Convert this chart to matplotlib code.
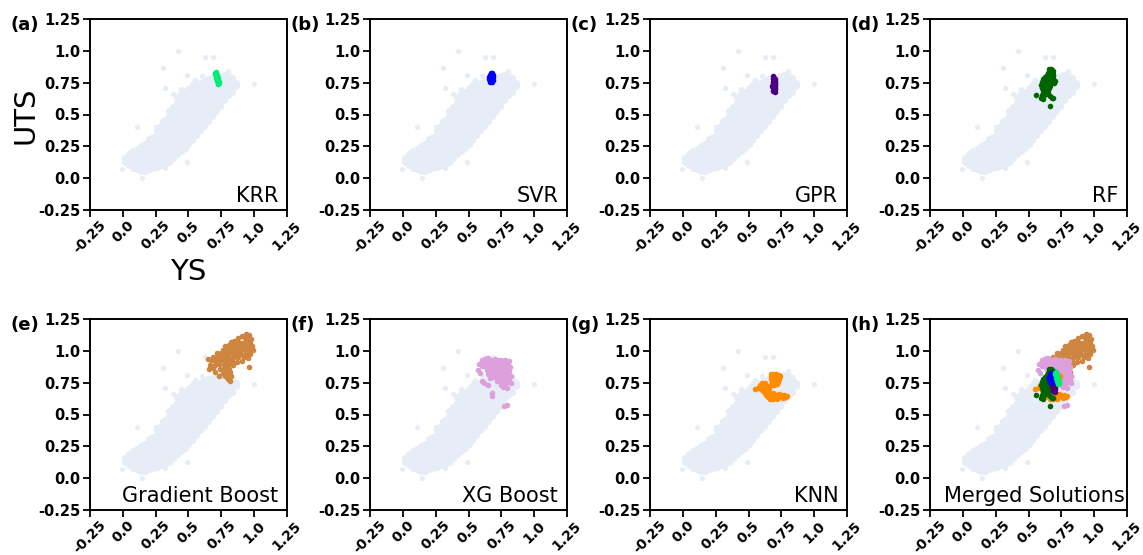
import matplotlib
matplotlib.use('Agg')
from matplotlib import pyplot as plt
import numpy as np

# YS / UTS ticks shared by every panel
ticks = [-0.25, 0.0, 0.25, 0.5, 0.75, 1.0, 1.25]
tick_labels = ['-0.25', '0.0', '0.25', '0.5', '0.75', '1.0', '1.25']

# grey background dataset, read column by column (x, list of y values)
cloud_x = [0.02, 0.05, 0.08, 0.11, 0.14, 0.17, 0.20, 0.23, 0.26, 0.29, 0.32, 0.35, 0.38, 0.41, 0.44,
           0.47, 0.50, 0.53, 0.56, 0.59, 0.62, 0.65, 0.68, 0.71, 0.74, 0.77, 0.80, 0.83, 0.86]
cloud_y = [
    [0.13, 0.16],
    [0.10, 0.13, 0.16, 0.19],
    [0.08, 0.11, 0.14, 0.17, 0.21],
    [0.07, 0.10, 0.13, 0.16, 0.19, 0.23],
    [0.06, 0.09, 0.12, 0.15, 0.18, 0.21, 0.25],
    [0.06, 0.09, 0.13, 0.16, 0.19, 0.23, 0.27],
    [0.07, 0.10, 0.13, 0.17, 0.20, 0.24, 0.27, 0.31],
    [0.08, 0.11, 0.14, 0.18, 0.21, 0.25, 0.28, 0.32],
    [0.09, 0.12, 0.16, 0.19, 0.23, 0.26, 0.30, 0.34, 0.38],
    [0.10, 0.14, 0.17, 0.21, 0.24, 0.28, 0.32, 0.36, 0.41],
    [0.11, 0.15, 0.19, 0.23, 0.27, 0.31, 0.35, 0.39, 0.43, 0.46],
    [0.13, 0.17, 0.21, 0.25, 0.29, 0.33, 0.37, 0.41, 0.45, 0.49, 0.53],
    [0.16, 0.20, 0.24, 0.28, 0.32, 0.36, 0.40, 0.44, 0.48, 0.52, 0.56],
    [0.19, 0.23, 0.27, 0.31, 0.35, 0.39, 0.43, 0.47, 0.51, 0.55, 0.59, 0.64],
    [0.21, 0.25, 0.29, 0.33, 0.37, 0.41, 0.45, 0.49, 0.53, 0.57, 0.61, 0.66],
    [0.24, 0.28, 0.32, 0.36, 0.40, 0.44, 0.48, 0.52, 0.56, 0.60, 0.64, 0.68],
    [0.27, 0.31, 0.35, 0.39, 0.43, 0.47, 0.51, 0.55, 0.59, 0.63, 0.67, 0.70],
    [0.30, 0.34, 0.38, 0.42, 0.46, 0.50, 0.54, 0.58, 0.62, 0.66, 0.69, 0.72],
    [0.34, 0.38, 0.42, 0.46, 0.50, 0.54, 0.58, 0.62, 0.66, 0.70, 0.73],
    [0.38, 0.42, 0.46, 0.50, 0.54, 0.58, 0.62, 0.66, 0.70, 0.73, 0.75],
    [0.41, 0.45, 0.49, 0.53, 0.57, 0.61, 0.65, 0.69, 0.73, 0.76],
    [0.45, 0.49, 0.53, 0.57, 0.61, 0.65, 0.69, 0.73, 0.76, 0.78],
    [0.49, 0.53, 0.57, 0.61, 0.65, 0.69, 0.73, 0.76, 0.79],
    [0.53, 0.57, 0.61, 0.65, 0.69, 0.73, 0.76, 0.79],
    [0.57, 0.61, 0.65, 0.69, 0.73, 0.77, 0.80],
    [0.61, 0.65, 0.69, 0.73, 0.77, 0.81],
    [0.65, 0.69, 0.73, 0.77, 0.81],
    [0.68, 0.72, 0.76, 0.79],
    [0.72, 0.75],
]
outliers = [(0.42, 1.00), (0.626, 0.954), (0.69, 0.954), (0.304, 0.867), (0.32, 0.705), (0.106, 0.40),
            (0.486, 0.81), (0.537, 0.745), (0.38, 0.66), (-0.004, 0.07), (0.144, 0.003), (0.32, 0.082),
            (0.486, 0.13), (1.0, 0.74), (0.87, 0.73), (0.55, 0.77), (0.44, 0.70), (0.30, 0.45),
            (0.25, 0.40), (0.60, 0.80), (0.80, 0.84)]

# predicted optimum solutions of each model (YS, UTS)
krr = [(0.700, 0.825), (0.712, 0.830), (0.705, 0.815), (0.715, 0.812), (0.708, 0.800), (0.718, 0.798),
       (0.712, 0.786), (0.722, 0.784), (0.715, 0.772), (0.726, 0.770), (0.720, 0.760), (0.730, 0.758),
       (0.724, 0.750), (0.734, 0.748), (0.728, 0.742), (0.706, 0.808), (0.720, 0.792), (0.716, 0.778),
       (0.725, 0.764)]
svr = [(0.660, 0.810), (0.672, 0.815), (0.684, 0.810), (0.656, 0.795), (0.668, 0.798), (0.680, 0.796),
       (0.690, 0.792), (0.658, 0.780), (0.670, 0.782), (0.682, 0.780), (0.662, 0.768), (0.675, 0.766),
       (0.686, 0.770), (0.668, 0.823), (0.678, 0.824), (0.664, 0.757), (0.678, 0.758)]
gpr = [(0.690, 0.800), (0.695, 0.790), (0.688, 0.780), (0.698, 0.775), (0.692, 0.765), (0.700, 0.760),
       (0.688, 0.752), (0.698, 0.745), (0.705, 0.748), (0.685, 0.738), (0.695, 0.732), (0.705, 0.735),
       (0.682, 0.722), (0.692, 0.718), (0.702, 0.720), (0.688, 0.705), (0.698, 0.702), (0.694, 0.690),
       (0.704, 0.710), (0.690, 0.682), (0.700, 0.676)]
rf = [(0.655, 0.855), (0.668, 0.860), (0.680, 0.852), (0.662, 0.840), (0.675, 0.838), (0.688, 0.842),
      (0.650, 0.825), (0.665, 0.822), (0.678, 0.826), (0.690, 0.818), (0.640, 0.808), (0.655, 0.805),
      (0.670, 0.808), (0.685, 0.800), (0.628, 0.792), (0.645, 0.790), (0.660, 0.788), (0.675, 0.785),
      (0.690, 0.780), (0.612, 0.775), (0.628, 0.772), (0.645, 0.770), (0.660, 0.768), (0.680, 0.765),
      (0.700, 0.762), (0.600, 0.755), (0.615, 0.748), (0.632, 0.752), (0.650, 0.745), (0.670, 0.748),
      (0.695, 0.745), (0.598, 0.730), (0.612, 0.725), (0.628, 0.728), (0.645, 0.722), (0.660, 0.720),
      (0.605, 0.705), (0.622, 0.700), (0.640, 0.698), (0.655, 0.705), (0.610, 0.682), (0.628, 0.675),
      (0.650, 0.680), (0.605, 0.655), (0.620, 0.650), (0.640, 0.660), (0.662, 0.645), (0.680, 0.630),
      (0.598, 0.628), (0.612, 0.620), (0.560, 0.653), (0.665, 0.565), (0.690, 0.628)]
gboost = [(0.940, 1.130), (0.960, 1.125), (0.905, 1.120), (0.880, 1.100), (0.920, 1.105), (0.950, 1.095),
          (0.975, 1.090), (0.820, 1.070), (0.850, 1.075), (0.880, 1.072), (0.905, 1.065), (0.935, 1.075),
          (0.965, 1.060), (0.780, 1.040), (0.805, 1.045), (0.830, 1.040), (0.860, 1.045), (0.890, 1.040),
          (0.915, 1.035), (0.945, 1.045), (0.980, 1.035), (0.760, 1.010), (0.790, 1.015), (0.815, 1.010),
          (0.845, 1.012), (0.870, 1.008), (0.900, 1.015), (0.930, 1.005), (0.960, 1.012), (0.990, 1.005),
          (0.720, 0.980), (0.750, 0.985), (0.780, 0.978), (0.810, 0.982), (0.840, 0.975), (0.870, 0.985),
          (0.900, 0.978), (0.935, 0.982), (0.965, 0.975), (0.690, 0.950), (0.720, 0.955), (0.750, 0.948),
          (0.780, 0.952), (0.810, 0.945), (0.845, 0.950), (0.880, 0.948), (0.920, 0.955), (0.955, 0.945),
          (0.650, 0.935), (0.675, 0.925), (0.705, 0.922), (0.740, 0.918), (0.770, 0.925), (0.800, 0.915),
          (0.835, 0.920), (0.870, 0.915), (0.905, 0.922), (0.660, 0.885), (0.700, 0.890), (0.735, 0.895),
          (0.770, 0.885), (0.800, 0.890), (0.840, 0.885), (0.960, 0.870), (0.655, 0.855), (0.690, 0.862),
          (0.740, 0.860), (0.775, 0.855), (0.810, 0.860), (0.700, 0.830), (0.760, 0.825), (0.790, 0.830),
          (0.815, 0.835), (0.730, 0.805), (0.780, 0.800), (0.805, 0.795), (0.825, 0.805), (0.800, 0.775),
          (0.815, 0.760)]
xgboost = [(0.600, 0.930), (0.625, 0.935), (0.650, 0.940), (0.675, 0.930), (0.700, 0.935), (0.725, 0.925),
           (0.750, 0.930), (0.780, 0.925), (0.810, 0.920), (0.580, 0.900), (0.615, 0.905), (0.640, 0.910),
           (0.665, 0.905), (0.690, 0.912), (0.715, 0.900), (0.740, 0.905), (0.770, 0.900), (0.800, 0.895),
           (0.605, 0.880), (0.630, 0.875), (0.655, 0.880), (0.680, 0.872), (0.705, 0.878), (0.730, 0.870),
           (0.760, 0.875), (0.790, 0.868), (0.815, 0.870), (0.575, 0.850), (0.640, 0.850), (0.665, 0.845),
           (0.690, 0.852), (0.715, 0.843), (0.745, 0.848), (0.775, 0.842), (0.805, 0.845), (0.590, 0.822),
           (0.650, 0.820), (0.680, 0.815), (0.705, 0.822), (0.735, 0.815), (0.765, 0.818), (0.795, 0.812),
           (0.820, 0.805), (0.660, 0.790), (0.690, 0.792), (0.720, 0.785), (0.750, 0.790), (0.780, 0.785),
           (0.810, 0.780), (0.720, 0.760), (0.745, 0.755), (0.770, 0.762), (0.800, 0.755), (0.820, 0.745),
           (0.615, 0.745), (0.650, 0.735), (0.600, 0.760), (0.745, 0.735), (0.780, 0.740), (0.760, 0.715),
           (0.790, 0.705), (0.775, 0.725), (0.680, 0.668), (0.678, 0.645), (0.772, 0.565), (0.790, 0.578)]
knn = [(0.670, 0.815), (0.690, 0.820), (0.710, 0.815), (0.730, 0.812), (0.675, 0.795), (0.700, 0.798),
       (0.722, 0.795), (0.740, 0.800), (0.668, 0.775), (0.690, 0.778), (0.712, 0.772), (0.735, 0.778),
       (0.680, 0.755), (0.705, 0.752), (0.728, 0.756), (0.672, 0.735), (0.695, 0.732), (0.715, 0.738),
       (0.548, 0.703), (0.570, 0.712), (0.590, 0.730), (0.605, 0.745), (0.625, 0.748), (0.585, 0.705),
       (0.605, 0.692), (0.625, 0.715), (0.645, 0.720), (0.615, 0.680), (0.640, 0.690), (0.655, 0.700),
       (0.630, 0.655), (0.650, 0.665), (0.670, 0.660), (0.690, 0.668), (0.710, 0.655), (0.730, 0.660),
       (0.750, 0.655), (0.770, 0.650), (0.790, 0.648), (0.650, 0.640), (0.675, 0.638), (0.700, 0.642),
       (0.725, 0.640), (0.745, 0.645), (0.770, 0.640), (0.660, 0.620), (0.690, 0.625), (0.720, 0.622),
       (0.760, 0.632), (0.785, 0.640)]

models = {
    'KRR': (krr, '#00ee76'),
    'SVR': (svr, '#0000ff'),
    'GPR': (gpr, '#4b0082'),
    'RF': (rf, '#006400'),
    'Gradient Boost': (gboost, '#cd853f'),
    'XG Boost': (xgboost, '#dda0dd'),
    'KNN': (knn, '#ff8c00'),
}
merge_order = ['Gradient Boost', 'XG Boost', 'KNN', 'RF', 'GPR', 'SVR', 'KRR']
panels = ['KRR', 'SVR', 'GPR', 'RF', 'Gradient Boost', 'XG Boost', 'KNN', 'Merged Solutions']
letters = ['(a)', '(b)', '(c)', '(d)', '(e)', '(f)', '(g)', '(h)']

bg_x = []
bg_y = []
for x, ys in zip(cloud_x, cloud_y):
    bg_x += [x] * len(ys)
    bg_y += ys
out_x = [p[0] for p in outliers]
out_y = [p[1] for p in outliers]

W, H = 1143, 555
fig = plt.figure(figsize=(W / 100, H / 100), dpi=100)
lefts = [90, 370, 650, 930]
tops = [19, 319]
bg_color = '#e7edf6'

def draw(ax, pts, color):
    pts = np.array(pts)
    ax.scatter(pts[:, 0], pts[:, 1], s=16, color=color, linewidths=0, zorder=3)

for i, name in enumerate(panels):
    left = lefts[i % 4]
    top = tops[i // 4]
    ax = fig.add_axes([left / W, 1 - (top + 191) / H, 197 / W, 191 / H])
    ax.scatter(bg_x, bg_y, s=26, color=bg_color, linewidths=0, zorder=1)
    ax.scatter(out_x, out_y, s=14, color=bg_color, linewidths=0, zorder=1)
    if name == 'Merged Solutions':
        for m in merge_order:
            draw(ax, *models[m])
    else:
        draw(ax, *models[name])
    ax.set_xlim(-0.25, 1.25)
    ax.set_ylim(-0.25, 1.25)
    ax.set_xticks(ticks)
    ax.set_yticks(ticks)
    ax.set_xticklabels(tick_labels, rotation=45, fontweight='bold', fontsize=10)
    ax.set_yticklabels(tick_labels, fontweight='bold', fontsize=10.5)
    ax.tick_params(length=5, width=1.3)
    ax.tick_params(axis='x', pad=1)
    ax.tick_params(axis='y', pad=2)
    for sp in ax.spines.values():
        sp.set_linewidth(1.4)
    xr = 0.99 if name == 'Merged Solutions' else 0.955
    ax.text(xr, 0.04, name, transform=ax.transAxes, ha='right', va='baseline', fontsize=15)
    fig.text((left - 80) / W, 1 - (top + 6) / H, letters[i], ha='left', va='center',
             fontsize=13, fontweight='bold')

fig.text(26 / W, 1 - 115 / H, 'UTS', rotation=90, ha='center', va='center', fontsize=21)
fig.text(188 / W, 1 - 272 / H, 'YS', ha='center', va='center', fontsize=21)

fig.savefig('out.png', dpi=100)
